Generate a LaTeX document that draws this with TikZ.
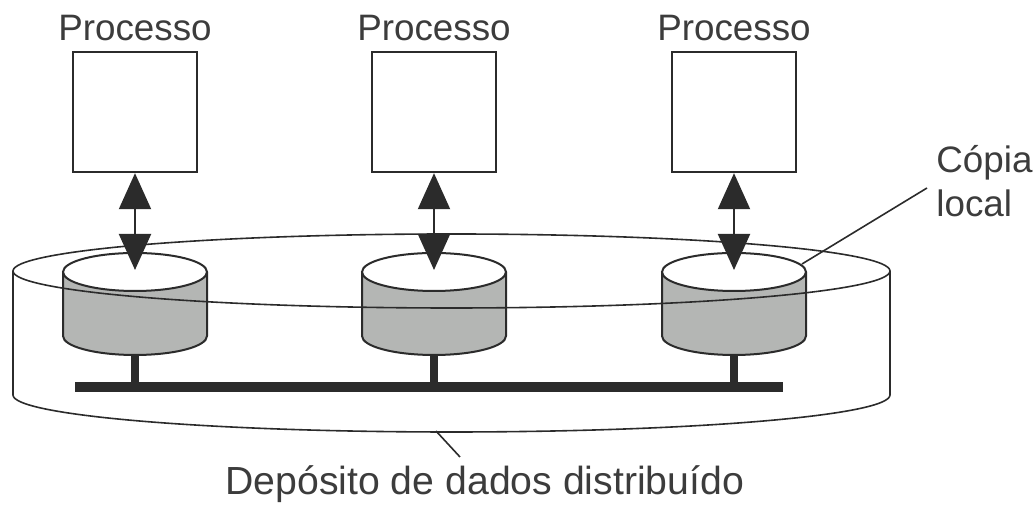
\documentclass[tikz,border=0pt]{standalone}
\usepackage{fontspec}
\setmainfont{Liberation Sans}
\usetikzlibrary{positioning,calc,arrows.meta}

\definecolor{inkgray}{HTML}{2B2B2B}
\definecolor{textgray}{HTML}{3C3C3C}
\definecolor{diskgray}{HTML}{B4B6B4}

\tikzset{
  proc/.style={draw=inkgray, line width=1.2pt, minimum width=62pt,
    minimum height=60pt, inner sep=0pt},
  lbl/.style={text=textgray, inner sep=0pt, font=\fontsize{18.4}{22}\selectfont},
  link/.style={draw=inkgray, line width=1pt,
    {Triangle[width=16pt,length=18pt]}-{Triangle[width=16pt,length=18pt]}},
  lead/.style={draw=inkgray, line width=0.8pt},
  % small local store: white lid, grey body
  pics/disk/.style={code={
    \fill[diskgray] (-72,0) -- (-72,-64)
      arc[start angle=180, end angle=360, x radius=72, y radius=19] -- (72,0) -- cycle;
    \draw[inkgray, line width=1pt] (-72,0) -- (-72,-64)
      arc[start angle=180, end angle=360, x radius=72, y radius=19] -- (72,0);
    \draw[inkgray, line width=1pt, fill=white] (0,0) ellipse[x radius=72, y radius=19];
    \coordinate (-top) at (0,2);
    \coordinate (-rim) at (68,8);
    \coordinate (-bot) at (0,-83);
  }}
}

\begin{document}
\begin{tikzpicture}[x=0.5pt, y=0.5pt]
  \useasboundingbox (0,0) rectangle (1035,513);

  % processes
  \node[proc] (p1) at (135,401) {};
  \node[proc] (p2) at (434,401) {};
  \node[proc] (p3) at (734,401) {};
  \foreach \p in {p1,p2,p3}
    \node[lbl, above=5pt of \p] (\p-name) {Processo};

  % local copies
  \pic (d1) at (135,241) {disk};
  \pic (d2) at (434,241) {disk};
  \pic (d3) at (734,241) {disk};

  % the shared store round them
  \coordinate (store) at (451.5,242);
  \coordinate (storefoot) at (436,82);
  \draw[inkgray, line width=0.8pt] (store) ellipse[x radius=438.5, y radius=37];
  \draw[inkgray, line width=0.8pt] (13,242) -- (13,118)
    arc[start angle=180, end angle=360, x radius=438.5, y radius=37] -- (890,242);

  % network
  \coordinate (busL) at (75,126);
  \coordinate (busR) at (783,126);
  \draw[inkgray, line width=5pt] (busL) -- (busR);
  \foreach \d in {d1,d2,d3}
    \draw[inkgray, line width=4pt] (\d-bot) -- (\d-bot |- busL);

  \draw[link] (p1.south) -- (d1-top);
  \draw[link] (p2.south) -- (d2-top);
  \draw[link] (p3.south) -- (d3-top);

  % labels
  \node[lbl, align=left, anchor=base west] (copia) at (936,296) {Cópia\\local};
  \coordinate (copiafoot) at (927,325);
  \draw[lead] (copiafoot) -- (d3-rim);

  \node[lbl, font=\fontsize{19.6}{24}\selectfont, anchor=base west] (deposito)
    at (225,18) {Depósito de dados distribuído};
  \coordinate (depfoot) at (460,56);
  \draw[lead] (storefoot) -- (depfoot);
\end{tikzpicture}
\end{document}
